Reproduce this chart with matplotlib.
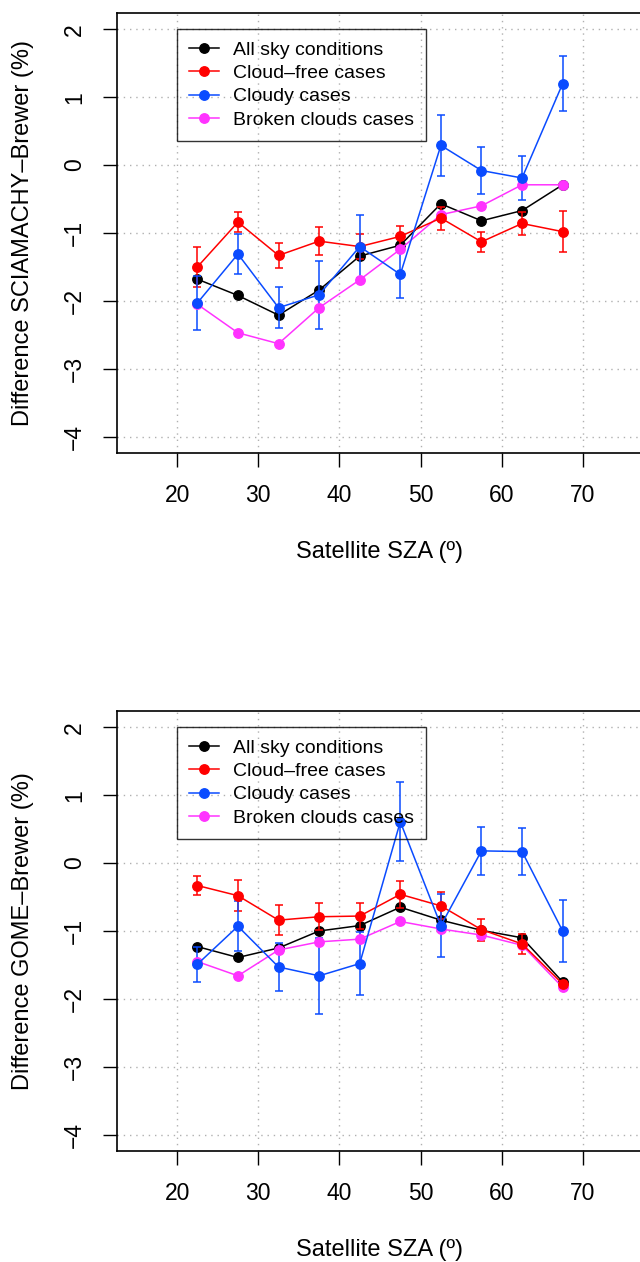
import matplotlib
matplotlib.use("Agg")
import matplotlib.pyplot as plt
from matplotlib.lines import Line2D

plt.rcParams['font.family'] = ['Liberation Sans', 'DejaVu Sans']

# satellite SZA bins (centres)
sza = [22.5, 27.5, 32.5, 37.5, 42.5, 47.5, 52.5, 57.5, 62.5, 67.5]

# SCIAMACHY - Brewer (%)
sci_all = [-1.68, -1.92, -2.21, -1.84, -1.34, -1.18, -0.57, -0.82, -0.67, -0.29]
sci_free = [-1.50, -0.84, -1.33, -1.12, -1.20, -1.05, -0.78, -1.13, -0.86, -0.98]
sci_free_err = [0.29, 0.15, 0.18, 0.21, 0.19, 0.15, 0.17, 0.15, 0.17, 0.30]
sci_cloudy = [-2.03, -1.31, -2.10, -1.91, -1.20, -1.61, 0.29, -0.08, -0.19, 1.20]
sci_cloudy_err = [0.40, 0.29, 0.30, 0.50, 0.47, 0.35, 0.45, 0.35, 0.32, 0.41]
sci_broken = [-2.05, -2.47, -2.63, -2.10, -1.69, -1.24, -0.73, -0.60, -0.29, -0.29]

# GOME - Brewer (%)
gome_all = [-1.23, -1.39, -1.25, -1.00, -0.92, -0.65, -0.84, -0.99, -1.10, -1.75]
gome_free = [-0.33, -0.48, -0.84, -0.79, -0.78, -0.46, -0.63, -0.98, -1.19, -1.78]
gome_free_err = [0.14, 0.23, 0.22, 0.20, 0.19, 0.20, 0.20, 0.16, 0.15, 0.05]
gome_cloudy = [-1.49, -0.93, -1.53, -1.66, -1.48, 0.61, -0.92, 0.18, 0.17, -1.00]
gome_cloudy_err = [0.26, 0.37, 0.36, 0.56, 0.46, 0.58, 0.46, 0.35, 0.34, 0.45]
gome_broken = [-1.45, -1.66, -1.28, -1.16, -1.12, -0.86, -0.97, -1.06, -1.21, -1.83]

labels = ["All sky conditions", "Cloud\u2013free cases", "Cloudy cases", "Broken clouds cases"]
colors = ["black", "#ff0000", "#0a4bff", "#ff33ff"]
xticks = [20, 30, 40, 50, 60, 70]
yticks = [-4, -3, -2, -1, 0, 1, 2]

W, H = 640, 1262
fig = plt.figure(figsize=(W / 100, H / 100), dpi=100)

def panel(top_px, ylabel, all_, free, free_err, cloudy, cloudy_err, broken):
    ax = fig.add_axes([117 / W, 1 - (top_px + 440) / H, 526 / W, 440 / H])
    ax.set_xlim(12.6, 77.4)
    ax.set_ylim(-4.24, 2.24)
    ax.set_xticks(xticks)
    ax.set_yticks(yticks)
    for x in xticks:
        ax.axvline(x, color="#b0b0b0", lw=1, ls=(0, (1, 3.5)), zorder=0)
    for y in yticks:
        ax.axhline(y, color="#b0b0b0", lw=1, ls=(0, (1, 3.5)), zorder=0)

    kw = dict(marker="o", ms=6.8, lw=1.1)
    ax.plot(sza, all_, color=colors[0], **kw)
    ax.errorbar(sza, free, yerr=free_err, color=colors[1], capsize=3.2, elinewidth=1.1, capthick=1.1, **kw)
    ax.errorbar(sza, cloudy, yerr=cloudy_err, color=colors[2], capsize=3.2, elinewidth=1.1, capthick=1.1, **kw)
    ax.plot(sza, broken, color=colors[3], **kw)

    for s in ax.spines.values():
        s.set_linewidth(1.2)
    ax.tick_params(direction="out", length=10.4, width=1, labelsize=16.5)
    ax.tick_params(axis="x", pad=12)
    ax.tick_params(axis="y", pad=12, labelrotation=90)
    for t in ax.get_yticklabels():
        t.set_va("center")

    ax.set_ylabel(ylabel, fontsize=17, va="center")
    ax.yaxis.set_label_coords((23 - 117) / 526, 0.5)
    ax.set_xlabel("Satellite SZA (\u00ba)", fontsize=17, va="center")
    ax.xaxis.set_label_coords(0.5, -99 / 440)

    handles = [Line2D([], [], color=c, marker="o", ms=6.8, lw=1.1) for c in colors]
    leg = ax.legend(handles, labels, loc="upper left", bbox_to_anchor=(20, 2),
                    bbox_transform=ax.transData, borderaxespad=0, fontsize=14,
                    fancybox=False, edgecolor="black", handlelength=1.55,
                    handletextpad=0.75, labelspacing=0.3, borderpad=0.6)
    leg.get_frame().set_facecolor("none")
    leg.get_frame().set_linewidth(1.0)
    return ax

panel(13, "Difference SCIAMACHY\u2013Brewer (%)", sci_all, sci_free, sci_free_err,
      sci_cloudy, sci_cloudy_err, sci_broken)
panel(711, "Difference GOME\u2013Brewer (%)", gome_all, gome_free, gome_free_err,
      gome_cloudy, gome_cloudy_err, gome_broken)

fig.savefig("out.png", dpi=100)
